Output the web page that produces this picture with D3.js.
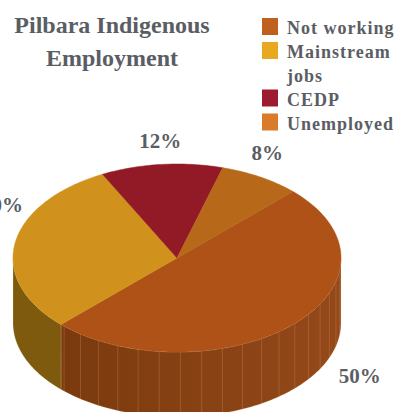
<!DOCTYPE html>
<html>
<head>
<meta charset="utf-8">
<script src="https://cdn.jsdelivr.net/npm/d3@7"></script>
<style>
  body { margin: 0; background: #fff; }
  svg { display: block; }
  text { font-family: "Liberation Serif", "DejaVu Serif", serif; font-weight: bold; }
</style>
</head>
<body>
<div id="chart"></div>
<script>
const categories = ["Not working", "Mainstream jobs", "CEDP", "Unemployed"]
const values = [50, 30, 12, 8]
const titleLines = ["Pilbara Indigenous", "Employment"]

const topColors = ["#ae5217", "#d0921c", "#921a27", "#b86819"]
const sideColors = ["#8a4212", "#7d5a0e", "#6e1420", "#8c4f12"]
const legendColors = ["#c0601f", "#e8a820", "#9e1a30", "#d97b2a"]

const width = 395, height = 412
const textColor = "#5a5e64"

const svg = d3.select("#chart").append("svg")
    .attr("width", width)
    .attr("height", height)
    .style("overflow", "hidden")

// pie geometry (top face is an ellipse, side has depth)
const cx = 177, cy = 258, rx = 164, ry = 94, depth = 65

const pie = d3.pie().sort(null)
    .startAngle(Math.PI / 4)
    .endAngle(Math.PI / 4 + 2 * Math.PI)
const arcs = pie(values)

// angle (clockwise from top) -> point on rim
const px = a => cx + rx * Math.sin(a)
const py = a => cy - ry * Math.cos(a)

function rimPoints(a0, a1, dy) {
    const n = Math.max(2, Math.ceil(Math.abs(a1 - a0) / 0.02))
    return d3.range(n + 1).map(i => {
        const a = a0 + (a1 - a0) * i / n
        return [px(a), py(a) + dy]
    })
}

const line = d3.line()

const defs = svg.append("defs")
const grad = defs.append("linearGradient").attr("id", "sideGrad")
    .attr("x1", "0%").attr("x2", "100%")
grad.append("stop").attr("offset", "0%").attr("stop-color", "#7a3a0d")
grad.append("stop").attr("offset", "100%").attr("stop-color", "#95491a")

// sides: only the front half (PI/2 .. 3PI/2) is visible
const sideG = svg.append("g")
arcs.forEach((d, i) => {
    const lo = Math.max(d.startAngle, Math.PI / 2)
    const hi = Math.min(d.endAngle, 3 * Math.PI / 2)
    if (hi <= lo) return
    const top = rimPoints(lo, hi, 0)
    const bottom = rimPoints(hi, lo, depth)
    sideG.append("path")
        .attr("d", line(top.concat(bottom)) + "Z")
        .attr("fill", i == 0 ? "url(#sideGrad)" : sideColors[i])
        .attr("stroke", "rgba(255,230,200,0.35)")
        .attr("stroke-width", 0.6)

    // thin seams like the original rendering
    if (i == 0) {
        const seams = d3.range(lo + 0.12, hi, 0.13)
        seams.forEach(a => {
            sideG.append("line")
                .attr("x1", px(a)).attr("y1", py(a))
                .attr("x2", px(a)).attr("y2", py(a) + depth)
                .attr("stroke", "#c98a5c")
                .attr("stroke-opacity", 0.5)
                .attr("stroke-width", 0.7)
        })
    }
})

// top faces
const topG = svg.append("g")
arcs.forEach((d, i) => {
    const pts = [[cx, cy]].concat(rimPoints(d.startAngle, d.endAngle, 0))
    topG.append("path")
        .attr("d", line(pts) + "Z")
        .attr("fill", topColors[i])
        .attr("stroke", topColors[i])
        .attr("stroke-width", 0.5)
})

// data labels, pushed further out for the front (thick) side
function labelPos(d) {
    const a = (d.startAngle + d.endAngle) / 2
    const s = Math.sin(a), c = Math.cos(a)
    const front = Math.max(0, -c)
    const kx = 1.08 + 0.7 * front
    const ky = 1.25 + 0.35 * front
    return [cx + rx * kx * s, cy - ry * ky * c + depth * 0.4 * front + 7]
}

const labels = svg.append("g").selectAll("text")
    .data(arcs)
    .join("text")
    .attr("text-anchor", "middle")
    .attr("font-size", 21)
    .attr("fill", textColor)
    .text(d => d.data + "%")

// place labels, lifting back-side labels clear of the top ellipse
const pad = 14
labels.each(function(d) {
    let [x, yy] = labelPos(d)
    const a = (d.startAngle + d.endAngle) / 2
    const el = d3.select(this).attr("x", x).attr("y", yy)
    if (Math.cos(a) >= 0) {
        const w = this.getComputedTextLength()
        const nearX = Math.max(x - w / 2, Math.min(cx, x + w / 2))
        const u = (nearX - cx) / rx
        if (Math.abs(u) < 1) {
            const topY = cy - ry * Math.sqrt(1 - u * u)
            if (yy + pad > topY) el.attr("y", topY - pad)
        }
    }
})

// title
svg.append("g").selectAll("text")
    .data(titleLines)
    .join("text")
    .attr("x", 112)
    .attr("y", (d, i) => 33 + i * 33)
    .attr("text-anchor", "middle")
    .attr("font-size", 24)
    .attr("fill", textColor)
    .text(d => d)

// legend
const legend = svg.append("g")
const lx = 262, tx = 287, maxW = 118, lineH = 23.5
let y = 34
categories.forEach((name, i) => {
    legend.append("rect")
        .attr("x", lx).attr("y", y - 16)
        .attr("width", 16).attr("height", 17)
        .attr("fill", legendColors[i])

    const t = legend.append("text")
        .attr("font-size", 18)
        .attr("letter-spacing", 1)
        .attr("fill", textColor)

    // simple word wrap
    const words = name.split(" ")
    let cur = [], lines = []
    words.forEach(w => {
        const test = cur.concat([w]).join(" ")
        t.text(test)
        if (t.node().getComputedTextLength() > maxW && cur.length) {
            lines.push(cur.join(" "))
            cur = [w]
        } else {
            cur.push(w)
        }
    })
    lines.push(cur.join(" "))
    t.text(null)
    lines.forEach((ln, j) => {
        t.append("tspan").attr("x", tx).attr("y", y + j * lineH).text(ln)
    })
    y += (lines.length - 1) * lineH + 24
})
</script>
</body>
</html>
